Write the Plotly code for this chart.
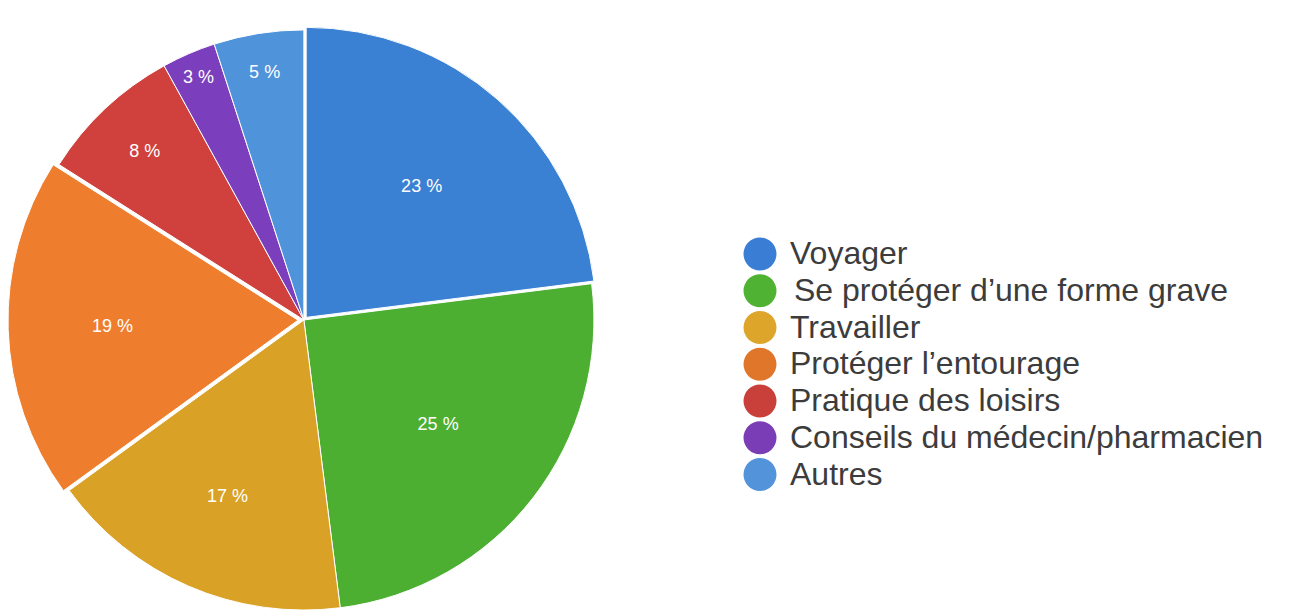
import plotly.graph_objects as go

categories = ["Voyager", "Se protéger d’une forme grave", "Travailler", "Protéger l’entourage",
              "Pratique des loisirs", "Conseils du médecin/pharmacien", "Autres"]
values = [23, 25, 17, 19, 8, 3, 5]
colors = ["#3A80D3", "#4DAF32", "#D9A226", "#EE7E2E", "#D0403C", "#7B3EBC", "#4F93DB"]
legend_colors = ["#3A7DD4", "#50B233", "#DDA52A", "#E0762A", "#C9403A", "#7A3DB5", "#5293DA"]
pulls = [0.012, 0.0, 0.0, 0.02, 0.0, 0.0, 0.0]

W, H = 1292, 615

fig = go.Figure()
fig.add_trace(go.Pie(
    labels=categories, values=values, sort=False, direction="clockwise", rotation=0,
    marker=dict(colors=colors, line=dict(color="white", width=1)),
    pull=pulls,
    texttemplate="%{value} %", textposition="inside", insidetextorientation="horizontal",
    textfont=dict(color="white", size=18, family="Liberation Sans"),
    domain=dict(x=[0.0, 0.458], y=[0.0114, 0.974]),
    showlegend=False, hoverinfo="label+value",
))

# custom legend with large circular markers
lx, ly0, dy, rad = 752, 246, 36.75, 16.5
shapes, annotations = [], []
for i, (c, col) in enumerate(zip(categories, legend_colors)):
    cy = ly0 + i * dy
    shapes.append(dict(type="circle", xref="paper", yref="paper",
                       x0=(lx - rad) / W, x1=(lx + rad) / W,
                       y0=1 - (cy + rad) / H, y1=1 - (cy - rad) / H,
                       fillcolor=col, line=dict(width=0)))
    annotations.append(dict(text=c, xref="paper", yref="paper",
                            x=(780 + (4 if i == 1 else 0)) / W, y=1 - (cy - 1) / H,
                            xanchor="left", yanchor="middle", showarrow=False,
                            font=dict(size=32, color="#3c3c3c", family="Liberation Sans")))

fig.update_layout(
    width=W, height=H,
    margin=dict(l=0, r=0, t=0, b=0),
    paper_bgcolor="white", plot_bgcolor="white",
    showlegend=False,
    shapes=shapes, annotations=annotations,
)
fig.write_html("out.html")
